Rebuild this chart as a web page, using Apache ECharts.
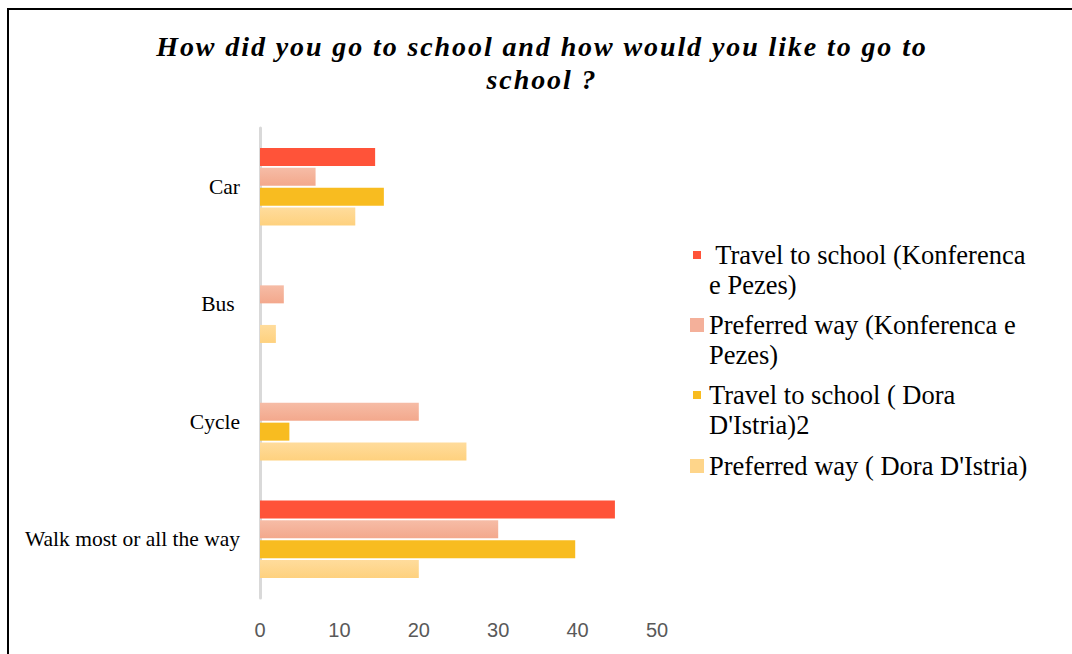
<!DOCTYPE html>
<html>
<head>
<meta charset="utf-8">
<script src="https://cdn.jsdelivr.net/npm/echarts@6/dist/echarts.min.js"></script>
<style>
  html, body { margin: 0; padding: 0; background: #fff; }
  #chart { width: 1072px; height: 654px; }
  /* the title is the only bold text: spread its letters like the original */
  #chart svg text[style*="bold"] { letter-spacing: 1.9px; }
</style>
</head>
<body>
<div id="chart"></div>
<script>
// Chart data
const categories = ['Car', 'Bus ', 'Cycle', 'Walk most or all the way']
const seriesNames = [
  ' Travel to school (Konferenca e Pezes)',
  'Preferred way (Konferenca e Pezes)',
  "Travel to school ( Dora D'Istria)2",
  "Preferred way ( Dora D'Istria)",
]
const travelKP = [14.5, 0, 0, 44.7]
const preferredKP = [7, 3, 20, 30]
const travelDD = [15.6, 0, 3.7, 39.7]
const preferredDD = [12, 2, 26, 20]
const xTicks = [0, 10, 20, 30, 40, 50]

// Legend labels wrapped like the original
const legendLines = {
  [seriesNames[0]]: ' Travel to school (Konferenca\ne Pezes)',
  [seriesNames[1]]: 'Preferred way (Konferenca e\nPezes)',
  [seriesNames[2]]: 'Travel to school ( Dora\nD\'Istria)2',
  [seriesNames[3]]: 'Preferred way ( Dora D\'Istria)',
}

function grad(top, bottom) {
  return new echarts.graphic.LinearGradient(0, 0, 0, 1, [
    { offset: 0, color: top },
    { offset: 1, color: bottom },
  ])
}

const styles = [
  { color: '#FF5339' },
  { color: grad('#F6BCA6', '#F3A88C') },
  { color: '#F8BC20' },
  { color: grad('#FFDC9C', '#FED17E') },
]
const legendColors = ['#FF5339', '#F4B09A', '#F8BC20', '#FED58A']
const values = [travelKP, preferredKP, travelDD, preferredDD]

// square in a 14x44 legend box: at the top for two-line labels, centred otherwise
function squareIcon(color, small, top) {
  const size = small ? 8 : 14
  const x = (14 - size) / 2
  const y = top ? (14 - size) / 2 : (44 - size) / 2
  const svg = '<svg xmlns="http://www.w3.org/2000/svg" width="14" height="44" viewBox="0 0 14 44">' +
    '<rect x="' + x + '" y="' + y + '" width="' + size + '" height="' + size + '" fill="' + color + '"/></svg>'
  return 'image://data:image/svg+xml;charset=utf-8,' + encodeURIComponent(svg)
}

const serif = 'Liberation Serif'
const legendText = { fontFamily: serif, fontSize: 26.5, lineHeight: 30, color: '#000' }

const chart = echarts.init(document.getElementById('chart'), null, { renderer: 'svg' })

chart.setOption({
  backgroundColor: '#fff',
  animation: false,
  textStyle: { fontFamily: serif },
  title: {
    text: 'How did you go to school and how would you like to go to\nschool ?',
    left: 537,
    textAlign: 'center',
    top: 25,
    textStyle: {
      fontFamily: serif,
      fontStyle: 'italic',
      fontWeight: 'bold',
      fontSize: 28,
      lineHeight: 33,
      color: '#000',
    },
  },
  legend: {
    orient: 'vertical',
    left: 690,
    top: 234,
    padding: 0,
    itemWidth: 14,
    itemHeight: 44,
    itemGap: -2,
    formatter: (name) => legendLines[name] || name,
    textStyle: legendText,
    data: seriesNames.map((n, i) => ({
      name: n,
      icon: squareIcon(legendColors[i], i === 0 || i === 2, i < 3),
      textStyle: i < 3 ? { ...legendText, padding: [6, 0, 6, 0] } : legendText,
    })),
  },
  grid: {
    left: 260,
    width: 397,
    top: 128,
    height: 470,
  },
  xAxis: {
    type: 'value',
    min: 0,
    max: 50,
    interval: 10,
    axisLine: { show: false },
    axisTick: { show: false },
    splitLine: { show: false },
    axisLabel: {
      margin: 22,
      fontFamily: 'Liberation Sans',
      fontSize: 20,
      color: '#595959',
      formatter: (v) => (xTicks.includes(v) ? String(v) : ''),
    },
  },
  yAxis: {
    type: 'category',
    inverse: true,
    data: categories,
    axisLine: { show: true, lineStyle: { color: '#D9D9D9', width: 3 } },
    axisTick: { show: false },
    axisLabel: {
      margin: 20,
      fontFamily: serif,
      fontSize: 21.5,
      color: '#000',
    },
  },
  series: values.map((data, i) => ({
    name: seriesNames[i],
    type: 'bar',
    data,
    barWidth: 18,
    barGap: '10%',
    itemStyle: styles[i],
  })),
  graphic: [
    {
      type: 'polyline',
      shape: { points: [[8, 654], [8, 9], [1072, 9]] },
      style: { stroke: '#000', lineWidth: 2, fill: 'none' },
      silent: true,
    },
  ],
})
</script>
</body>
</html>
